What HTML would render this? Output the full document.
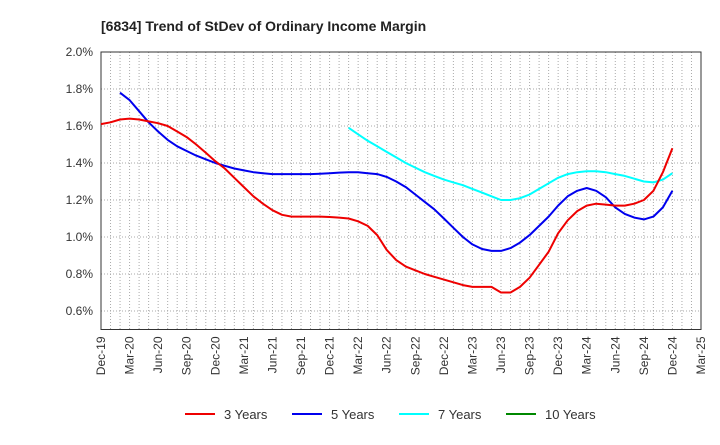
<!DOCTYPE html>
<html><head><meta charset="utf-8"><style>
body{margin:0;background:#fff;font-family:"Liberation Sans",sans-serif}
</style></head><body>
<svg width="720" height="440" xmlns="http://www.w3.org/2000/svg">
<rect width="720" height="440" fill="#fff"/>
<text x="101" y="31" font-size="14" font-weight="bold" fill="#222">[6834]  Trend of StDev of Ordinary Income Margin</text>
<g id="grid"></g><g id="axes"></g><g id="lines"></g>
<g id="legend"></g>
</svg>
<script>
const xLabels=["Dec-19","Mar-20","Jun-20","Sep-20","Dec-20","Mar-21","Jun-21","Sep-21","Dec-21","Mar-22","Jun-22","Sep-22","Dec-22","Mar-23","Jun-23","Sep-23","Dec-23","Mar-24","Jun-24","Sep-24","Dec-24","Mar-25"];
const yTicks=[0.6,0.8,1.0,1.2,1.4,1.6,1.8,2.0];
const red=[1.61,1.62,1.635,1.64,1.635,1.625,1.615,1.60,1.57,1.54,1.50,1.455,1.41,1.37,1.32,1.27,1.22,1.18,1.145,1.12,1.11,1.11,1.11,1.11,1.108,1.105,1.10,1.085,1.06,1.01,0.93,0.875,0.84,0.82,0.80,0.785,0.77,0.755,0.74,0.73,0.73,0.73,0.70,0.70,0.73,0.78,0.85,0.92,1.02,1.09,1.14,1.17,1.18,1.175,1.17,1.17,1.18,1.20,1.25,1.35,1.48];
const blue=[null,null,1.78,1.74,1.68,1.62,1.57,1.525,1.49,1.465,1.44,1.42,1.40,1.385,1.37,1.36,1.35,1.345,1.34,1.34,1.34,1.34,1.34,1.342,1.345,1.348,1.35,1.35,1.345,1.34,1.325,1.30,1.27,1.23,1.19,1.15,1.10,1.05,1.00,0.96,0.935,0.925,0.925,0.94,0.97,1.01,1.06,1.11,1.17,1.22,1.25,1.265,1.25,1.215,1.16,1.125,1.105,1.095,1.11,1.16,1.25];
const cyan=[...Array(26).fill(null),1.59,1.555,1.52,1.49,1.46,1.43,1.40,1.375,1.35,1.33,1.31,1.295,1.28,1.26,1.24,1.22,1.20,1.20,1.21,1.23,1.26,1.29,1.32,1.34,1.35,1.355,1.355,1.35,1.34,1.33,1.315,1.30,1.295,1.31,1.345];
const green=[];
const X0=101,X1=701,Y0=52,YB=329.5,YMIN=0.5,YMAX=2.0,NM=63;
const xs=i=>X0+(X1-X0)*i/NM;
const ys=v=>YB-(v-YMIN)/(YMAX-YMIN)*(YB-Y0);
const NS="http://www.w3.org/2000/svg";
function mk(tag,attrs,parent){const e=document.createElementNS(NS,tag);for(const k in attrs)e.setAttribute(k,attrs[k]);parent.appendChild(e);return e;}
const grid=document.getElementById('grid'),axes=document.getElementById('axes'),lines=document.getElementById('lines'),leg=document.getElementById('legend');
for(let m=1;m<NM;m++){const l=mk('line',{x1:xs(m),x2:xs(m),y1:Y0,y2:YB,stroke:'#aaa','stroke-width':1,'stroke-dasharray':'1,2'},grid);

}
yTicks.forEach(t=>{const y=ys(t);
if(t<2.0){const l=mk('line',{x1:X0,x2:X1,y1:y,y2:y,stroke:'#aaa','stroke-width':1,'stroke-dasharray':'1,2'},grid);

}
const tx=mk('text',{x:X0-8,y:y+4,'text-anchor':'end','font-size':12,fill:'#333'},axes);tx.textContent=t.toFixed(1)+'%';

});
const fr=mk('rect',{x:X0,y:Y0,width:X1-X0,height:YB-Y0,fill:'none',stroke:'#333','stroke-width':1},axes);


xLabels.forEach((s,i)=>{const x=xs(i*3);
const t=mk('text',{x:0,y:0,'text-anchor':'end','font-size':12,fill:'#333',transform:`translate(${x+4},${YB+7}) rotate(-90)`},axes);t.textContent=s;

});
function draw(arr,color,name){let d='',pen=false;arr.forEach((v,i)=>{if(v==null){pen=false;return;}d+=(pen?'L':'M')+xs(i).toFixed(1)+','+ys(v).toFixed(1);pen=true;});
if(!d)return;const p=mk('path',{d:d,fill:'none',stroke:color,'stroke-width':2,'stroke-linejoin':'round'},lines);

}
draw(cyan,'#00ffff','line-7-years');draw(blue,'#0000ee','line-5-years');draw(red,'#ee0000','line-3-years');draw(green,'#008800','line-10-years');
const items=[['3 Years','#ee0000',185],['5 Years','#0000ee',292],['7 Years','#00ffff',399],['10 Years','#008800',506]];
items.forEach(([s,c,x])=>{const l=mk('line',{x1:x,x2:x+30,y1:414,y2:414,stroke:c,'stroke-width':2},leg);


const t=mk('text',{x:x+39,y:419,'font-size':13,fill:'#333'},leg);t.textContent=s;

});
</script>
</body></html>
